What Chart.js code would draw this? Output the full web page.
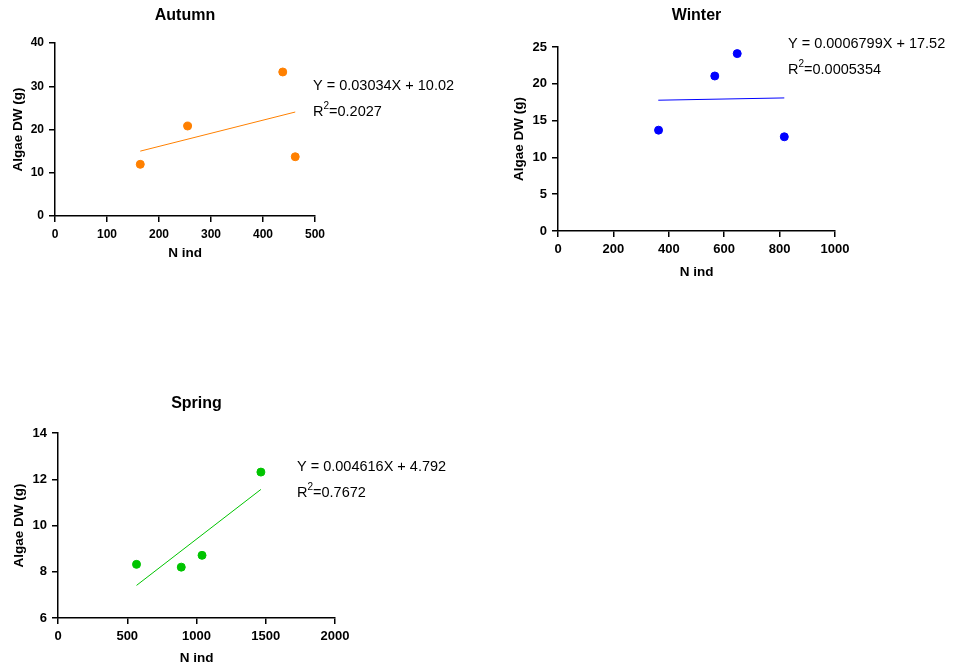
<!DOCTYPE html>
<html>
<head>
<meta charset="utf-8">
<title>Algae DW vs N ind</title>
<script src="https://cdn.jsdelivr.net/npm/chart.js@4.4.1/dist/chart.umd.min.js"></script>
<style>
  body { margin: 0; background: #fff; }
  #wrap { position: relative; width: 963px; height: 670px; overflow: hidden; }
  .box { position: absolute; }
</style>
</head>
<body>
<div id="wrap">
  <div class="box" style="left:0px;top:0px;width:470px;height:270px"><canvas id="autumn"></canvas></div>
  <div class="box" style="left:490px;top:0px;width:473px;height:290px"><canvas id="winter"></canvas></div>
  <div class="box" style="left:0px;top:380px;width:480px;height:290px"><canvas id="spring"></canvas></div>
</div>
<script>
// Data (N ind vs Algae DW)
const autumnX = [164, 255, 438, 462];
const autumnY = [11.95, 20.8, 33.3, 13.7];
const autumnFitX = [164, 462];
const autumnFitY = [15.0, 24.04];
const autumnTicks = [0, 100, 200, 300, 400, 500];
const autumnYTicks = [0, 10, 20, 30, 40];

const winterX = [363, 566, 647, 817];
const winterY = [13.7, 21.06, 24.1, 12.8];
const winterFitX = [362, 817];
const winterFitY = [17.77, 18.08];
const winterTicks = [0, 200, 400, 600, 800, 1000];
const winterYTicks = [0, 5, 10, 15, 20, 25];

const springX = [567, 890, 1040, 1465];
const springY = [8.32, 8.2, 8.71, 12.31];
const springFitX = [567, 1465];
const springFitY = [7.41, 11.56];
const springTicks = [0, 500, 1000, 1500, 2000];
const springYTicks = [6, 8, 10, 12, 14];

const FONT = "'Liberation Sans', Arial, sans-serif";

// draws the panel title and the fit equation next to the plot
const textPlugin = {
  id: 'panelText',
  afterDraw(chart, args, opts) {
    const ctx = chart.ctx;
    const area = chart.chartArea;
    ctx.save();
    ctx.fillStyle = '#000';
    ctx.font = 'bold 16px ' + FONT;
    ctx.textAlign = 'center';
    ctx.textBaseline = 'middle';
    ctx.fillText(opts.title, (area.left + area.right) / 2, opts.titleY);

    ctx.textAlign = 'left';
    ctx.font = '14.5px ' + FONT;
    ctx.fillText(opts.equation, opts.eqX, opts.eqY);
    let x = opts.eqX;
    ctx.fillText('R', x, opts.eqY + 26);
    x += ctx.measureText('R').width;
    ctx.font = '10px ' + FONT;
    ctx.fillText('2', x, opts.eqY + 20);
    x += ctx.measureText('2').width;
    ctx.font = '14.5px ' + FONT;
    ctx.fillText('=' + opts.r2, x, opts.eqY + 26);
    ctx.restore();
  }
};

function makePanel(id, o) {
  const pts = o.x.map((v, i) => ({ x: v, y: o.y[i] }));
  const fit = o.fitX.map((v, i) => ({ x: v, y: o.fitY[i] }));
  const axisCommon = {
    border: { display: true, color: '#000', width: 1.5 },
    grid: { drawOnChartArea: false, drawTicks: true, tickLength: 6, tickColor: '#000', lineWidth: 1.5 },
  };
  const tickFont = { family: FONT, size: o.tickSize, weight: 'bold' };
  return new Chart(document.getElementById(id), {
    type: 'scatter',
    data: {
      datasets: [
        { data: pts, backgroundColor: o.color, borderColor: o.color, pointRadius: 4, pointHoverRadius: 4 },
        { type: 'line', data: fit, borderColor: o.color, borderWidth: 1, pointRadius: 0, fill: false, tension: 0 }
      ]
    },
    options: {
      responsive: true,
      maintainAspectRatio: false,
      animation: false,
      layout: { padding: { left: 0, top: o.top, right: o.right, bottom: 0 } },
      plugins: {
        legend: { display: false },
        tooltip: { enabled: false },
        panelText: o.text
      },
      scales: {
        x: Object.assign({}, axisCommon, {
          type: 'linear',
          min: o.xTicks[0], max: o.xTicks[o.xTicks.length - 1],
          afterBuildTicks: s => { s.ticks = o.xTicks.map(v => ({ value: v })); },
          afterFit: s => { s.height = o.xAxisH; },
          ticks: { color: '#000', padding: 5, maxRotation: 0, font: tickFont, callback: v => String(v) },
          title: { display: true, text: 'N ind', color: '#000', padding: { top: 0, bottom: o.xTitlePad },
                   font: { family: FONT, size: 13.5, weight: 'bold' } }
        }),
        y: Object.assign({}, axisCommon, {
          type: 'linear',
          min: o.yTicks[0], max: o.yTicks[o.yTicks.length - 1],
          afterBuildTicks: s => { s.ticks = o.yTicks.map(v => ({ value: v })); },
          afterFit: s => { s.width = o.yAxisW; },
          ticks: { color: '#000', padding: 5, font: tickFont, callback: v => String(v) },
          title: { display: true, text: 'Algae DW (g)', color: '#000', padding: { top: o.yTitlePad, bottom: 0 },
                   font: { family: FONT, size: 13.5, weight: 'bold' } }
        })
      }
    },
    plugins: [textPlugin]
  });
}

makePanel('autumn', {
  x: autumnX, y: autumnY, fitX: autumnFitX, fitY: autumnFitY,
  xTicks: autumnTicks, yTicks: autumnYTicks, color: '#FF8000', tickSize: 12,
  top: 43, right: 155, xAxisH: 54, yAxisW: 55, xTitlePad: 9, yTitlePad: 10,
  text: { title: 'Autumn', titleY: 16, equation: 'Y = 0.03034X + 10.02', r2: '0.2027', eqX: 313, eqY: 86 }
});

makePanel('winter', {
  x: winterX, y: winterY, fitX: winterFitX, fitY: winterFitY,
  xTicks: winterTicks, yTicks: winterYTicks, color: '#0000FF', tickSize: 13,
  top: 47, right: 128, xAxisH: 59, yAxisW: 68, xTitlePad: 10, yTitlePad: 21,
  text: { title: 'Winter', titleY: 16, equation: 'Y = 0.0006799X + 17.52', r2: '0.0005354', eqX: 298, eqY: 44 }
});

makePanel('spring', {
  x: springX, y: springY, fitX: springFitX, fitY: springFitY,
  xTicks: springTicks, yTicks: springYTicks, color: '#00C400', tickSize: 13,
  top: 53, right: 145, xAxisH: 52, yAxisW: 58, xTitlePad: 4, yTitlePad: 11,
  text: { title: 'Spring', titleY: 24, equation: 'Y = 0.004616X + 4.792', r2: '0.7672', eqX: 297, eqY: 87 }
});
</script>
</body>
</html>
